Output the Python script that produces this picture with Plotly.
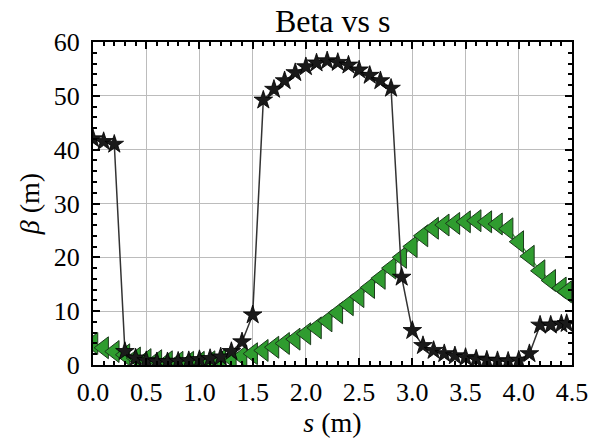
import plotly.graph_objects as go

s_vals = [0.0, 0.1, 0.2, 0.3, 0.4, 0.5, 0.6, 0.7, 0.8, 0.9,
          1.0, 1.1, 1.2, 1.3, 1.4, 1.5, 1.6, 1.7, 1.8, 1.9,
          2.0, 2.1, 2.2, 2.3, 2.4, 2.5, 2.6, 2.7, 2.8, 2.9,
          3.0, 3.1, 3.2, 3.3, 3.4, 3.5, 3.6, 3.7, 3.8, 3.9,
          4.0, 4.1, 4.2, 4.3, 4.4, 4.45]

beta_star = [42.0, 41.5, 41.0, 2.5, 1.3, 0.8, 0.6, 0.6, 0.7, 0.8,
             1.0, 1.2, 1.5, 2.5, 4.3, 9.3, 49.2, 51.2, 52.8, 54.3,
             55.4, 56.1, 56.5, 56.2, 55.7, 54.8, 53.8, 52.8, 51.4, 16.3,
             6.4, 3.6, 2.7, 2.1, 1.7, 1.4, 1.1, 0.9, 0.8, 0.7,
             0.9, 2.1, 7.4, 7.4, 7.6, 7.7]

beta_tri = [4.0, 3.2, 2.5, 1.9, 1.3, 1.0, 0.8, 0.6, 0.5, 0.5,
            0.5, 0.6, 0.9, 1.2, 1.6, 2.1, 2.7, 3.3, 4.0, 4.8,
            5.8, 6.9, 8.2, 9.7, 11.2, 12.7, 14.4, 16.1, 18.0, 20.0,
            22.0, 24.0, 25.4, 26.0, 26.3, 26.6, 26.8, 26.6, 26.2, 25.3,
            22.9, 20.2, 17.5, 15.7, 14.3, 13.6]

x_ticks = [0.0, 0.5, 1.0, 1.5, 2.0, 2.5, 3.0, 3.5, 4.0, 4.5]
y_ticks = [0, 10, 20, 30, 40, 50, 60]

FONT = "Liberation Serif"

fig = go.Figure()
fig.add_trace(go.Scatter(
    x=s_vals, y=beta_tri, mode="lines+markers",
    line=dict(color="#3aa03a", width=1.2),
    marker=dict(symbol="triangle-left", size=19, color="#2f9c2f",
                line=dict(color="#1c3a1c", width=1)),
    showlegend=False,
))
fig.add_trace(go.Scatter(
    x=s_vals, y=beta_star, mode="lines+markers",
    line=dict(color="#333333", width=1.5),
    marker=dict(symbol="star", size=14, color="#1a1a1a",
                line=dict(color="#000000", width=0.8)),
    showlegend=False,
))

axis_common = dict(
    showline=True, linecolor="black", linewidth=2, mirror="ticks",
    ticks="inside", ticklen=7, tickwidth=1.5, tickcolor="black",
    showgrid=True, gridcolor="#bcbcbc", gridwidth=1.3,
    zeroline=False, automargin=False,
    tickfont=dict(family=FONT, size=26, color="black"),
)

fig.update_xaxes(
    range=[0, 4.5], tickvals=x_ticks,
    ticktext=[f"{v:.1f}" for v in x_ticks],
    minor=dict(dtick=0.1, ticks="inside", ticklen=4, tickcolor="black", showgrid=False),
    title=dict(text="<i>s</i> (m)", font=dict(family=FONT, size=28, color="black"), standoff=2),
    ticklabelstandoff=3,
    **axis_common,
)
fig.update_yaxes(
    range=[0, 60], tickvals=y_ticks,
    minor=dict(dtick=2, ticks="inside", ticklen=4, tickcolor="black", showgrid=False),
    title=dict(text="<i>β</i> (m)", font=dict(family=FONT, size=28, color="black"), standoff=6),
    ticklabelstandoff=6,
    **axis_common,
)

fig.update_layout(
    width=592, height=439,
    margin=dict(l=93, r=20, t=42, b=74),
    paper_bgcolor="white", plot_bgcolor="white",
    title=dict(text="Beta vs s", x=0.562, xanchor="center",
               y=0.952, yanchor="middle", yref="container",
               font=dict(family=FONT, size=32, color="black")),
)

fig.write_html("out.html")
